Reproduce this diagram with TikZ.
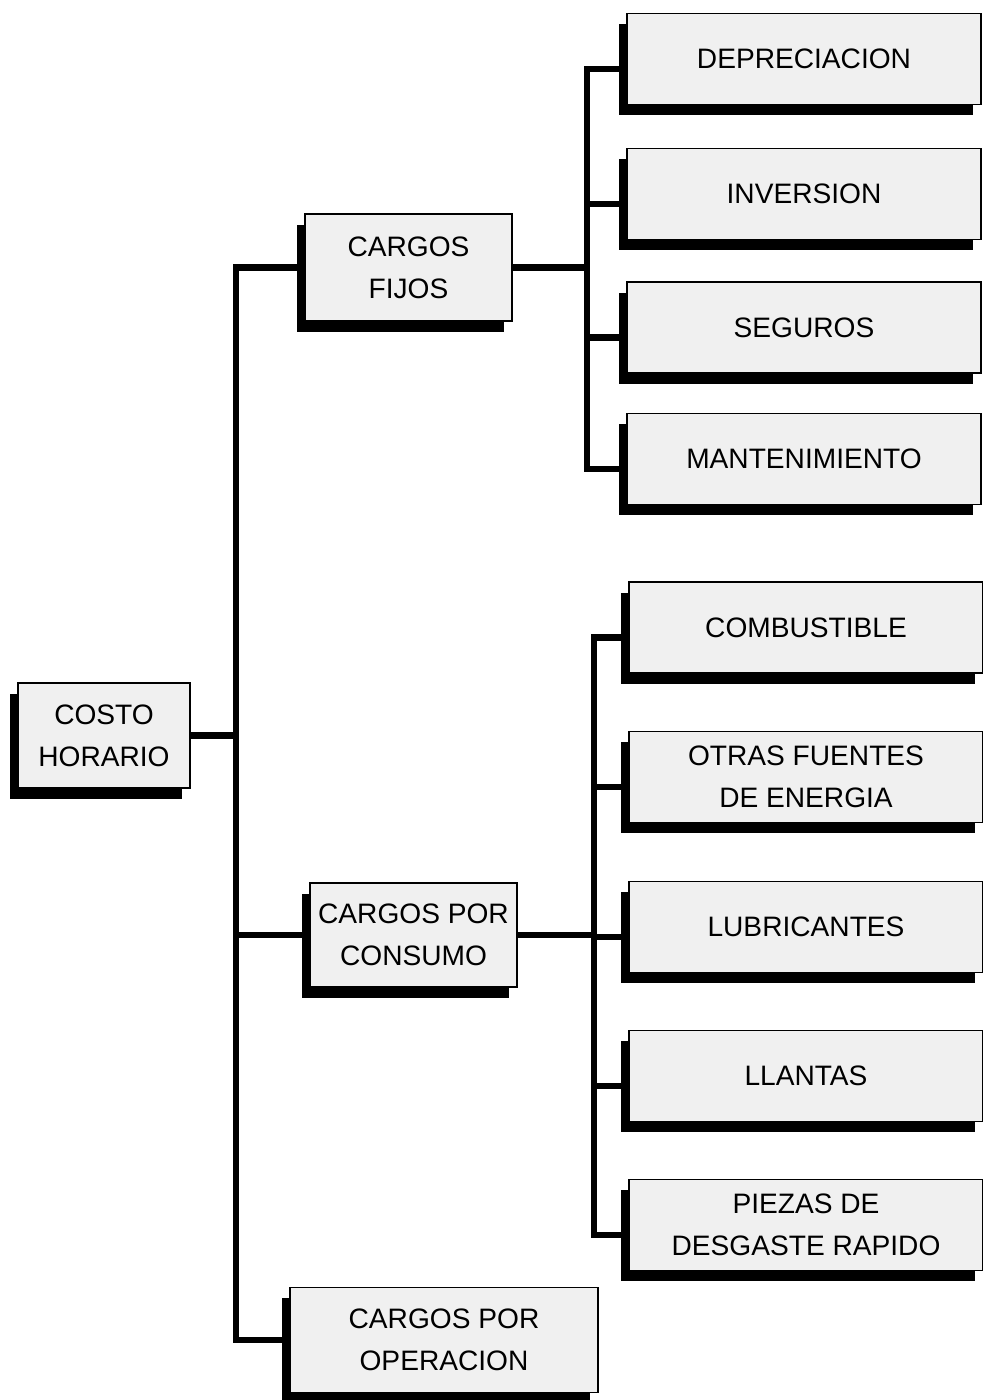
\documentclass[tikz,border=0pt]{standalone}
\usepackage{fontspec}
\setmainfont{Liberation Sans}
\usetikzlibrary{shadows}

\begin{document}
\begin{tikzpicture}[x=0.025cm, y=-0.025cm,
  caja/.style={draw, line width=1.2pt, fill=black!6, align=center, inner sep=0pt,
    font=\fontsize{20}{30}\selectfont,
    drop shadow={shadow xshift=-0.2cm, shadow yshift=-0.27cm, fill=black, opacity=1}},
  derecha/.style={caja, minimum width=8.85cm, minimum height=2.275cm},
  linea/.style={line width=4.3pt}]
\useasboundingbox (0,0) rectangle (983,1400);
% cajas de la izquierda
\node[caja, minimum width=4.3cm, minimum height=2.625cm] (costo) at (104,735.5) {COSTO\\HORARIO};
\node[caja, minimum width=5.175cm, minimum height=2.675cm] (fijos) at (408.5,267.5) {CARGOS\\FIJOS};
\node[caja, minimum width=5.175cm, minimum height=2.6cm] (consumo) at (413.5,935) {CARGOS POR\\CONSUMO};
\node[caja, minimum width=7.7cm, minimum height=2.625cm] (operacion) at (444,1340) {CARGOS POR\\OPERACION};
% cajas de la derecha
\foreach \y/\n/\t in {59/dep/DEPRECIACION, 194/inv/INVERSION, 327.5/seg/SEGUROS, 459/man/MANTENIMIENTO}
  \node[derecha] (\n) at (804,\y) {\t};
\foreach \y/\n/\t in {627.5/comb/COMBUSTIBLE, 777/otras/{OTRAS FUENTES\\DE ENERGIA}, 927/lub/LUBRICANTES, 1076/llan/LLANTAS, 1225/piezas/{PIEZAS DE\\DESGASTE RAPIDO}}
  \node[derecha] (\n) at (806,\y) {\t};
% conectores
\coordinate (t0) at (236,0);
\coordinate (tA) at (587,0);
\coordinate (tB) at (594,0);
\draw[linea] (costo.east) -- (t0 |- costo.east);
\draw[linea] (fijos.west) -| (t0 |- costo.east) |- (operacion.west);
\draw[linea] (consumo.west) -- (t0 |- consumo.west);
\draw[linea] (fijos.east) -- (tA |- fijos.east);
\foreach \n in {dep,inv,seg,man} \draw[linea] (tA |- fijos.east) |- ([yshift=-0.25cm]\n.west);
\draw[linea] (consumo.east) -- (tB |- consumo.east);
\foreach \n in {comb,otras,lub,llan,piezas} \draw[linea] (tB |- consumo.east) |- ([yshift=-0.25cm]\n.west);
\end{tikzpicture}
\end{document}
